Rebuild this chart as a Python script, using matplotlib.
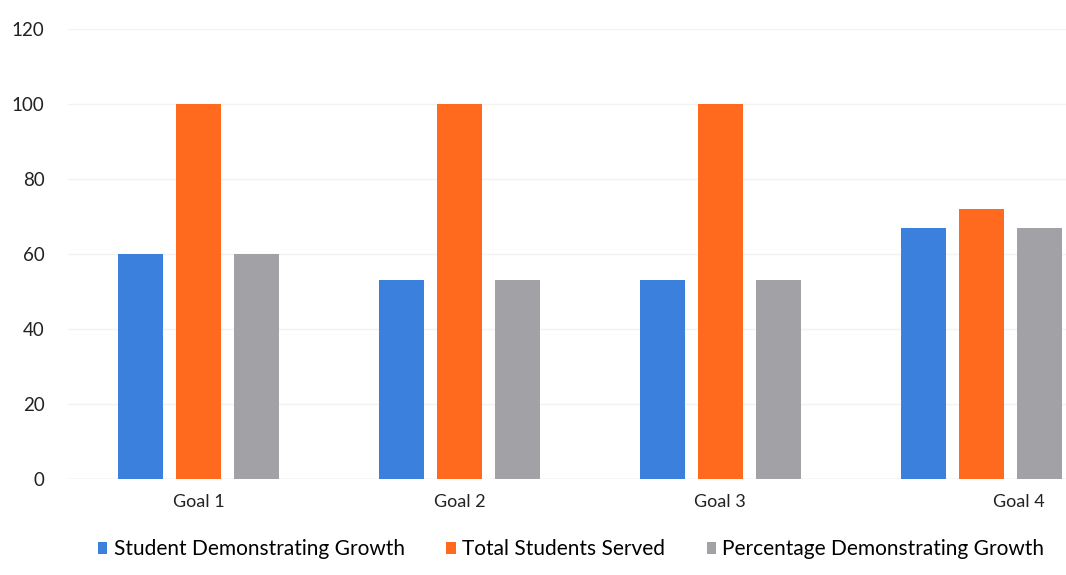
import numpy as np
import matplotlib
matplotlib.use("Agg")
import matplotlib.pyplot as plt
import matplotlib.transforms as mtransforms

plt.rcParams["font.family"] = ["Lato", "DejaVu Sans"]

goals = ["Goal 1", "Goal 2", "Goal 3", "Goal 4"]
growth = [60, 53, 53, 67]
served = [100, 100, 100, 72]
pct_growth = [60, 53, 53, 67]
series_names = ["Student Demonstrating Growth", "Total Students Served",
                "Percentage Demonstrating Growth"]
colors = ["#3A80DC", "#FF6A1F", "#A1A1A6"]

fig = plt.figure(figsize=(10.66, 5.75), dpi=100)
ax = fig.add_axes([0.0638, 0.167, 0.979, 0.7826])

x = np.arange(len(goals))
w = 0.172
step = 0.222
for i, (vals, name, c) in enumerate(zip([growth, served, pct_growth], series_names, colors)):
    ax.bar(x + (i - 1) * step, vals, width=w, color=c, label=name, zorder=3)

ax.set_xlim(-0.5, 3.5)
ax.set_ylim(0, 120)
ax.set_yticks(range(0, 121, 20))
ax.set_xticks(x)
ax.set_xticklabels(goals, fontsize=13, color="#222222")
ax.tick_params(axis="y", length=0, pad=17, labelsize=13.5, labelcolor="#222222")
ax.tick_params(axis="x", length=0, pad=11)
ax.yaxis.grid(True, color="#f2f2f2", linewidth=1, zorder=0)
for s in ax.spines.values():
    s.set_visible(False)
ax.axhline(0, color="#e6e6e6", linewidth=1, zorder=2)

# last label sits a bit right of its group in the original (chart is cut off)
last = ax.get_xticklabels()[-1]
last.set_transform(last.get_transform() +
                   mtransforms.ScaledTranslation(0.38, 0, fig.dpi_scale_trans))

fig.legend(loc="center left", bbox_to_anchor=(0.092, 0.045), ncol=3, frameon=False,
           fontsize=15, handlelength=0.45, handleheight=0.5, handletextpad=0.3,
           columnspacing=2.0, borderaxespad=0, borderpad=0)

fig.savefig("out.png", dpi=100)
